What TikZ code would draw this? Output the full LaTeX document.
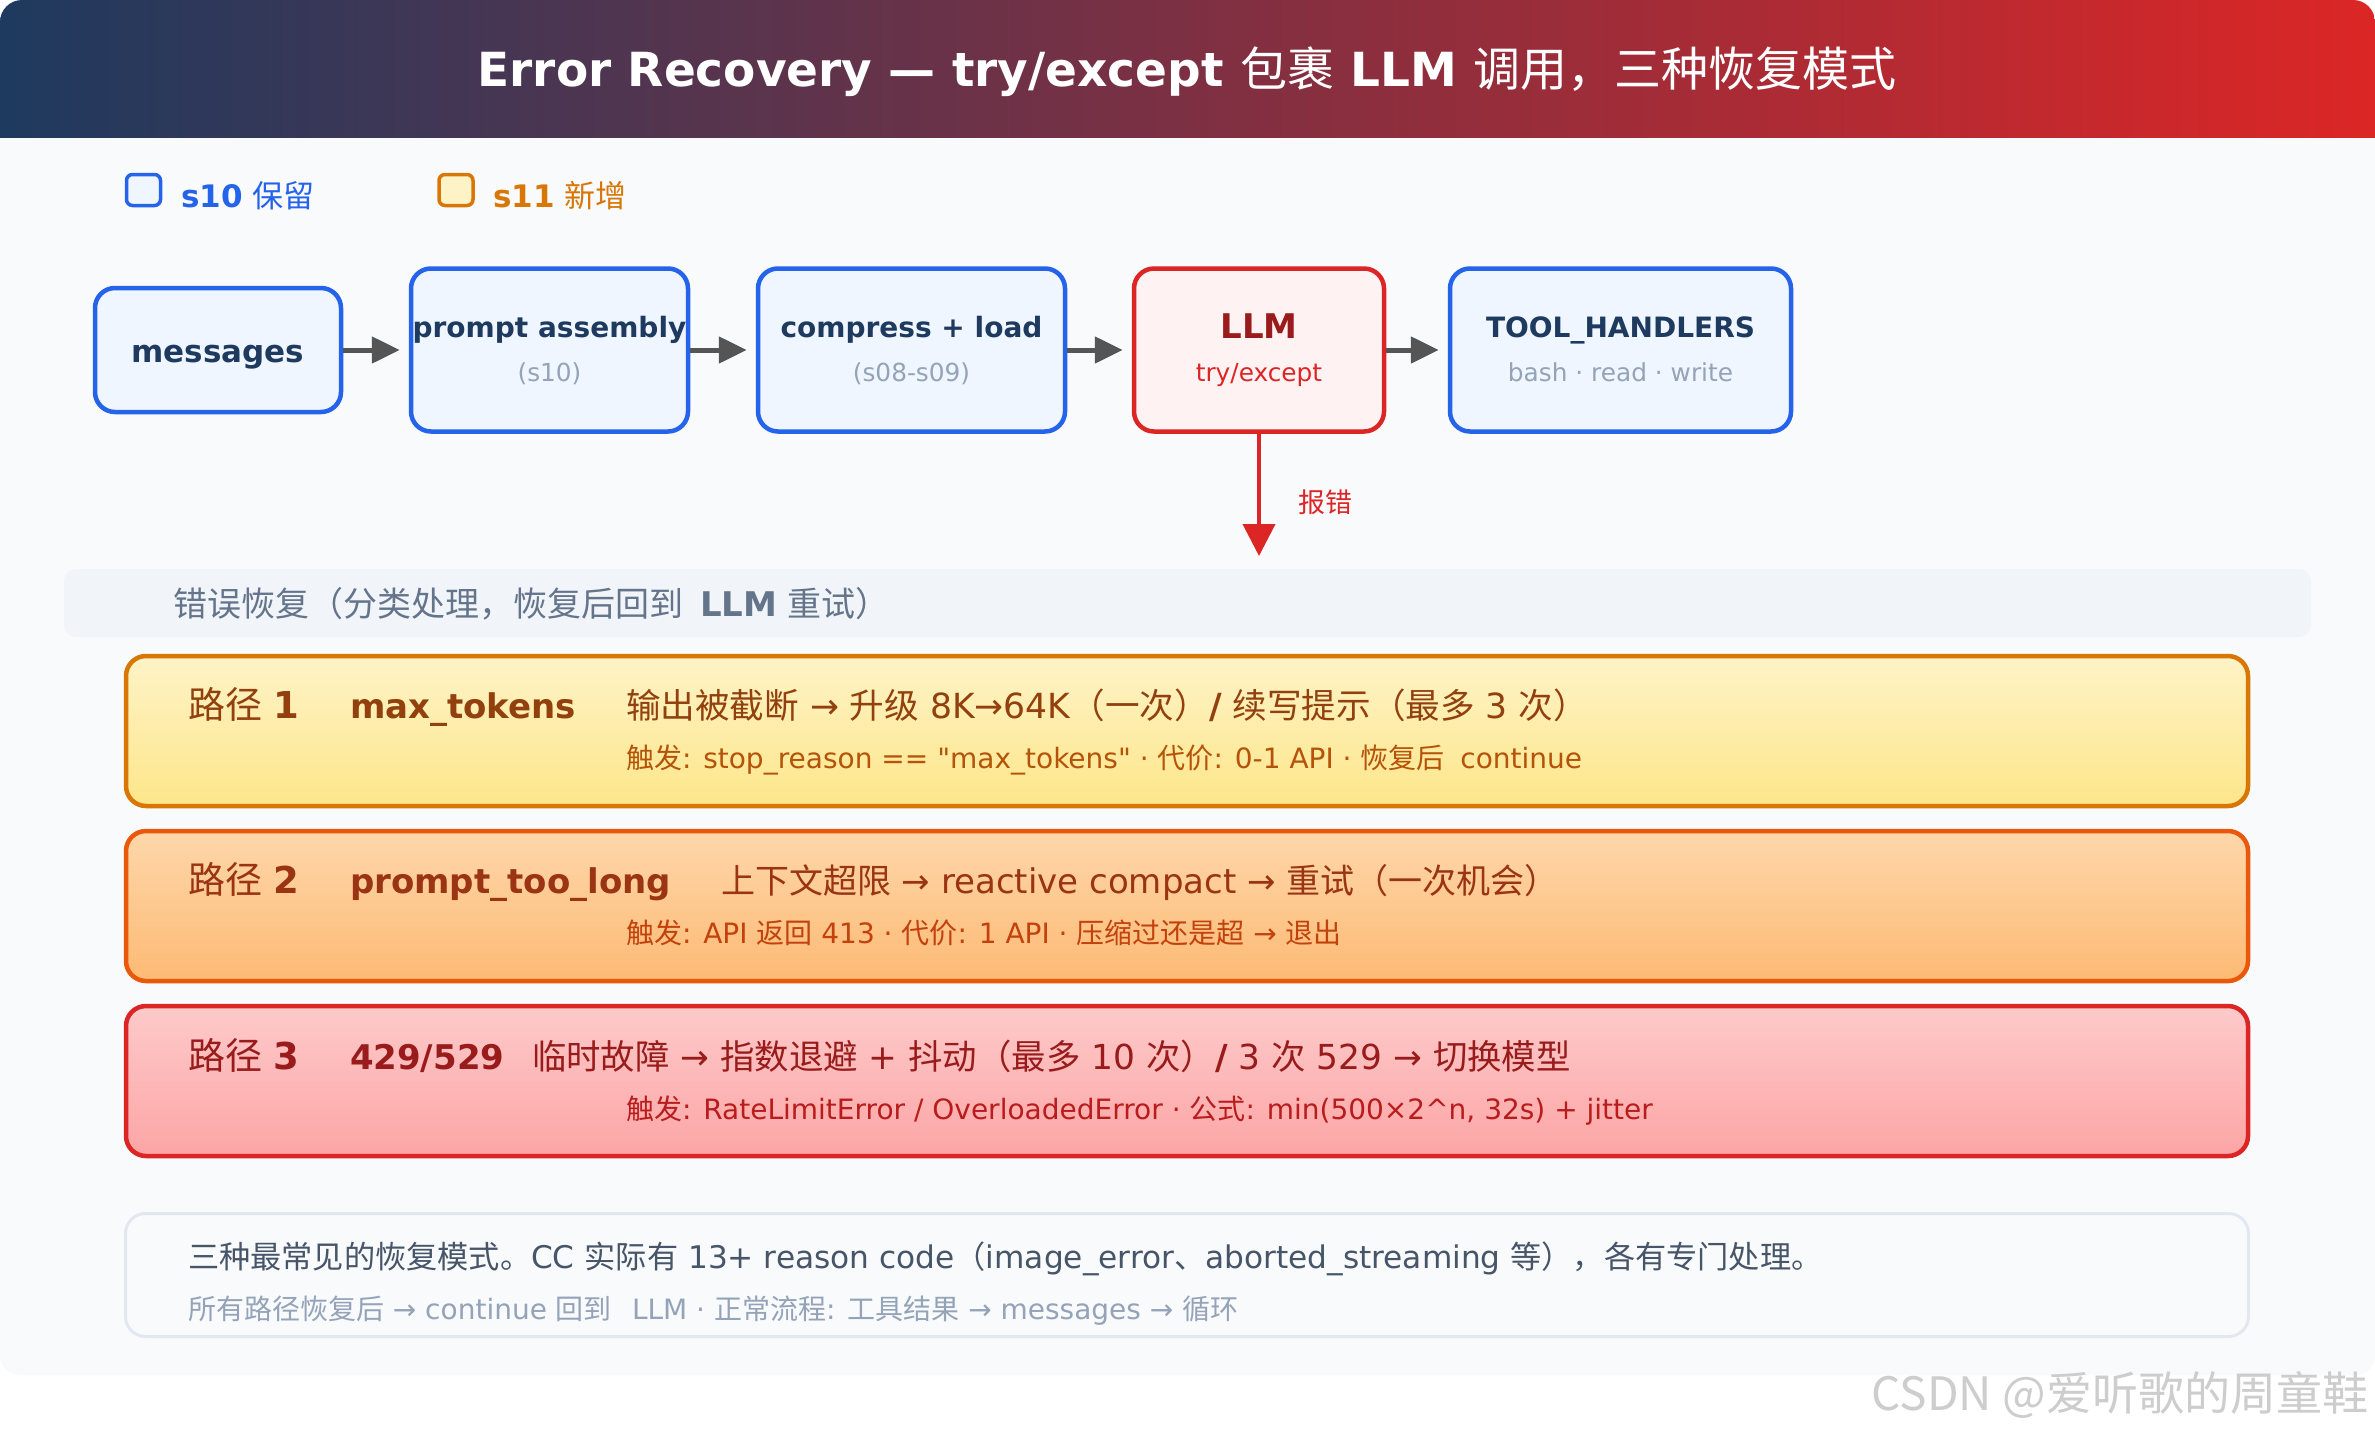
\documentclass[tikz,border=0pt]{standalone}
\usepackage{fontspec}
\setmainfont{DejaVu Sans}[Ligatures=TeXOff]
\newfontfamily\cjkfont{Noto Sans CJK SC}
\usetikzlibrary{arrows.meta}
% automatic switch to the CJK font for Chinese characters
\XeTeXinterchartokenstate=1
\newXeTeXintercharclass\CJKcls
\newcount\cjkc
\def\cjkrange#1#2{\cjkc=#1\relax\loop\XeTeXcharclass\cjkc=\CJKcls\relax\ifnum\cjkc<#2\relax\advance\cjkc by 1\relax\repeat}
\cjkrange{"4E00}{"9FFF}
\cjkrange{"3000}{"303F}
\cjkrange{"FF00}{"FFEF}
\XeTeXinterchartoks 0 \CJKcls = {\begingroup\cjkfont\mdseries}
\XeTeXinterchartoks 4095 \CJKcls = {\begingroup\cjkfont\mdseries}
\XeTeXinterchartoks \CJKcls 0 = {\endgroup}
\XeTeXinterchartoks \CJKcls 4095 = {\endgroup}

\definecolor{hdrL}{HTML}{1E3A5F}
\definecolor{hdrR}{HTML}{DC2626}
\definecolor{panelbg}{HTML}{F8FAFC}
\definecolor{blueS}{HTML}{2563EB}
\definecolor{blueF}{HTML}{EFF6FF}
\definecolor{amberS}{HTML}{D97706}
\definecolor{amberT}{HTML}{FEF3C7}
\definecolor{amberB}{HTML}{FDE68A}
\definecolor{amberD}{HTML}{92400E}
\definecolor{amberM}{HTML}{B45309}
\definecolor{orangeS}{HTML}{EA580C}
\definecolor{orangeT}{HTML}{FED7AA}
\definecolor{orangeB}{HTML}{FDBA74}
\definecolor{orangeD}{HTML}{9A3412}
\definecolor{orangeM}{HTML}{C2410C}
\definecolor{redS}{HTML}{DC2626}
\definecolor{redT}{HTML}{FECACA}
\definecolor{redB}{HTML}{FCA5A5}
\definecolor{redD}{HTML}{991B1B}
\definecolor{redM}{HTML}{B91C1C}
\definecolor{redF}{HTML}{FEF2F2}
\definecolor{slateA}{HTML}{F1F5F9}
\definecolor{slateB}{HTML}{E2E8F0}
\definecolor{slateC}{HTML}{94A3B8}
\definecolor{slateD}{HTML}{64748B}
\definecolor{slateE}{HTML}{475569}
\definecolor{navy}{HTML}{1E3A5F}
\definecolor{arrowgray}{HTML}{555555}
\definecolor{wmark}{HTML}{CDCDCD}

\tikzset{
  txt/.style={inner sep=0pt, outer sep=0pt},
  flowbox/.style={draw=blueS, fill=blueF, line width=2.25pt, rounded corners=10pt, inner sep=0pt, minimum height=81.5pt},
  llmbox/.style={draw=redS, fill=redF, line width=2.25pt, rounded corners=10pt, inner sep=0pt, minimum height=81.5pt},
  btitle/.style={txt, anchor=base, text=navy, font=\fontsize{14pt}{17pt}\selectfont\bfseries},
  bsub/.style={txt, anchor=base, text=slateC, font=\fontsize{12.4pt}{15pt}\selectfont},
  flowarrow/.style={draw=arrowgray, line width=2.5pt, -{Triangle[length=14pt,width=13pt]}, shorten >=4.5pt},
  errarrow/.style={draw=redS, line width=2pt, -{Triangle[length=16pt,width=16pt]}},
  legbox/.style={line width=1.75pt, rounded corners=3pt, minimum width=17pt, minimum height=15.5pt, inner sep=0pt},
  legtxt/.style={txt, anchor=base west, font=\fontsize{15.5pt}{18pt}\selectfont},
  pathbox/.style={line width=2.25pt, rounded corners=10pt, minimum width=1061pt, minimum height=75pt, inner sep=0pt},
  plabel/.style={txt, anchor=base west, font=\fontsize{17pt}{20pt}\selectfont},
  pname/.style={txt, anchor=base west, font=\fontsize{18.5pt}{22pt}\selectfont},
  psub/.style={txt, anchor=base west, font=\fontsize{14pt}{17pt}\selectfont},
}

\begin{document}
\begin{tikzpicture}[x=0.5pt,y=-0.5pt]
% canvas
\fill[white] (0,0) rectangle (2375,1434);
\useasboundingbox (0,0) rectangle (2375,1434);
\fill[panelbg, rounded corners=10pt] (0,0) rectangle (2375,1375);
\begin{scope}
  \clip (0,0) rectangle (2375,137);
  \shade[left color=hdrL, right color=hdrR, rounded corners=11pt] (0,0) rectangle (2375,220);
\end{scope}
\node[txt, anchor=base, text=white, font=\fontsize{23.5pt}{28pt}\selectfont\bfseries] (title) at (1187,87)
  {Error Recovery — try/except 包裹 LLM 调用，三种恢复模式};

% legend
\node[legbox, draw=blueS, fill=blueF] (leg1) at (143.5,190) {};
\node[legtxt, text=blueS] (leg1t) at (181,207) {\textbf{s10} 保留};
\node[legbox, draw=amberS, fill=amberT] (leg2) at (456,190) {};
\node[legtxt, text=amberS] (leg2t) at (493,207) {\textbf{s11} 新增};

% flow boxes
\node[flowbox, minimum width=123pt, minimum height=62pt] (msg) at (218,350) {};
\node[flowbox, minimum width=138.5pt] (prompt) at (549.5,350) {};
\node[flowbox, minimum width=153.5pt] (comp) at (911.5,350) {};
\node[llmbox, minimum width=125pt] (llm) at (1259,350) {};
\node[flowbox, minimum width=170.5pt] (tools) at (1620.5,350) {};

\node[btitle, font=\fontsize{15.5pt}{18pt}\selectfont\bfseries] (msgT) at (218,362) {messages};
\node[btitle] (promptT) at (549.5,337) {prompt assembly};
\node[bsub] (promptS) at (549.5,381) {(s10)};
\node[btitle] (compT) at (911.5,337) {compress + load};
\node[bsub] (compS) at (911.5,381) {(s08-s09)};
\node[btitle, text=redD, font=\fontsize{17pt}{20pt}\selectfont\bfseries] (llmT) at (1259,338) {LLM};
\node[bsub, text=redS] (llmS) at (1259,381) {try/except};
\node[btitle] (toolsT) at (1620.5,337) {TOOL\_HANDLERS};
\node[bsub] (toolsS) at (1620.5,381) {bash · read · write};

\draw[flowarrow] (msg) -- (prompt);
\draw[flowarrow] (prompt) -- (comp);
\draw[flowarrow] (comp) -- (llm);
\draw[flowarrow] (llm) -- (tools);

\coordinate (errEnd) at (1259,556);
\draw[errarrow] (llm) -- (errEnd);
\node[txt, anchor=base west, text=redS, font=\fontsize{13.5pt}{16pt}\selectfont] (errT) at (1298,512) {报错};

% section bar
\node[fill=slateA, rounded corners=6pt, minimum width=1123.5pt, minimum height=34pt, inner sep=0pt] (secbar) at (1187.5,603) {};
\node[txt, anchor=base west, text=slateD, font=\fontsize{17pt}{20pt}\selectfont] (secT) at (173,616)
  {错误恢复（分类处理，恢复后回到\hspace{0.5em}\textbf{LLM} 重试）};

% path 1
\node[pathbox, draw=amberS, top color=amberT, bottom color=amberB] (p1) at (1187,731) {};
\node[pname, text=amberD] (p1a) at (188,718) {路径 \textbf{1}};
\node[plabel, text=amberD] (p1b) at (350,718) {\textbf{max\_tokens}};
\node[plabel, text=amberD, font=\fontsize{17.3pt}{20pt}\selectfont] (p1c) at (626,718) {输出被截断 → 升级 8K→64K（一次）\textbf{/} 续写提示（最多 3 次）};
\node[psub, text=amberM] (p1d) at (626,768) {触发: stop\_reason == "max\_tokens" · 代价: 0-1 API · 恢复后\hspace{0.25em} continue};

% path 2
\node[pathbox, draw=orangeS, top color=orangeT, bottom color=orangeB] (p2) at (1187,906) {};
\node[pname, text=orangeD] (p2a) at (188,893) {路径 \textbf{2}};
\node[plabel, text=orangeD] (p2b) at (350,893) {\textbf{prompt\_too\_long}};
\node[plabel, text=orangeD] (p2c) at (721,893) {上下文超限 → reactive compact → 重试（一次机会）};
\node[psub, text=orangeM] (p2d) at (626,943) {触发: API 返回 413 · 代价: 1 API · 压缩过还是超 → 退出};

% path 3
\node[pathbox, draw=redS, top color=redT, bottom color=redB] (p3) at (1187,1081) {};
\node[pname, text=redD] (p3a) at (188,1069) {路径 \textbf{3}};
\node[plabel, text=redD] (p3b) at (350,1069) {\textbf{429/529}};
\node[plabel, text=redD, font=\fontsize{17.2pt}{20pt}\selectfont] (p3c) at (532,1069) {临时故障 → 指数退避 + 抖动（最多 10 次）\textbf{/} 3 次 529 → 切换模型};
\node[psub, text=redM] (p3d) at (626,1119) {触发: RateLimitError / OverloadedError · 公式: min(500×2\symbol{"5E}n, 32s) + jitter};

% note
\node[draw=slateB, fill=panelbg, line width=1.5pt, rounded corners=10pt, minimum width=1061.5pt, minimum height=61.5pt, inner sep=0pt] (note) at (1187,1275) {};
\node[txt, anchor=base west, text=slateE, font=\fontsize{15.6pt}{18pt}\selectfont] (noteA) at (188,1268)
  {三种最常见的恢复模式。CC 实际有 13+ reason code（image\_error、aborted\_streaming 等），各有专门处理。};
\node[txt, anchor=base west, text=slateC, font=\fontsize{14pt}{17pt}\selectfont] (noteB) at (188,1319)
  {所有路径恢复后 → continue 回到\hspace{0.4em} LLM · 正常流程: 工具结果 → messages → 循环};

% watermark
\node[txt, anchor=base east, text=wmark, font=\fontsize{23pt}{27pt}\selectfont] (wm) at (2368,1410) {\cjkfont CSDN @爱听歌的周童鞋};
\end{tikzpicture}
\end{document}
